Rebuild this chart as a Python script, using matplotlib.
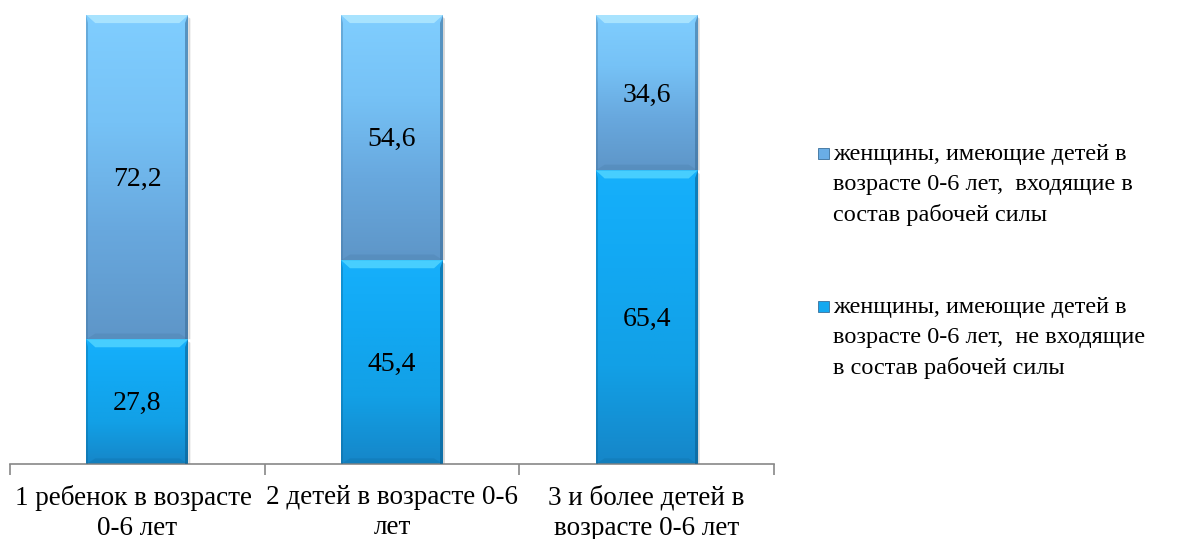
import numpy as np
import matplotlib
matplotlib.use("Agg")
import matplotlib.pyplot as plt
from matplotlib.patches import Rectangle, Polygon
from matplotlib.colors import LinearSegmentedColormap

categories = ["1 ребенок в возрасте \n0-6 лет", "2 детей в возрасте 0-6\nлет", "3 и более детей в\nвозрасте 0-6 лет"]
not_in_lf = [27.8, 45.4, 65.4]
in_lf = [72.2, 54.6, 34.6]
labels_series = ["женщины, имеющие детей в\nвозрасте 0-6 лет,  входящие в\nсостав рабочей силы",
                 "женщины, имеющие детей в\nвозрасте 0-6 лет,  не входящие\nв состав рабочей силы"]

plt.rcParams['font.family'] = ['Liberation Serif', 'DejaVu Serif']

fig = plt.figure(figsize=(11.82, 5.39), dpi=100)
ax = fig.add_axes([10/1182, 1-464/539, 764/1182, 449/539])
x = np.arange(len(categories))
width = 0.4

cm_top = LinearSegmentedColormap.from_list("t", ["#5e96c8", "#68a8de", "#76c2f6", "#80ceff"])
cm_bot = LinearSegmentedColormap.from_list("b", ["#1686c8", "#12a0e6", "#12a8f2", "#16b0fc"])

def grad_bar(xc, bottom, height, cmap, bevel_col, shade_col, base_col):
    bars = ax.bar([xc], [height], width, bottom=[bottom], color="none", edgecolor="none", zorder=2)
    p = bars.patches[0]
    x0, x1 = xc - width/2, xc + width/2
    grad = np.linspace(0, 1, 256).reshape(-1, 1)
    im = ax.imshow(grad, cmap=cmap, origin="lower", extent=[x0, x1, bottom, bottom+height],
                   aspect="auto", zorder=2)
    im.set_clip_path(p)
    bh = 1.8
    bw = 0.035
    top = bottom + height
    # top bevel
    ax.add_patch(Polygon([[x0, top], [x1, top], [x1-bw, top-bh], [x0+bw, top-bh]],
                         closed=True, facecolor=bevel_col, edgecolor="none", alpha=0.85, zorder=3))
    # bottom darker band
    ax.add_patch(Polygon([[x0, bottom], [x1, bottom], [x1-bw, bottom+bh*0.7], [x0+bw, bottom+bh*0.7]],
                         closed=True, facecolor=base_col, edgecolor="none", alpha=0.2, zorder=3))
    # shade right edge
    ax.add_patch(Polygon([[x1, top], [x1, bottom], [x1-0.012, bottom], [x1-0.012, top-bh]],
                         closed=True, facecolor=shade_col, edgecolor="none", alpha=0.6, zorder=3))
    ax.add_patch(Polygon([[x0, top], [x0, bottom], [x0+0.008, bottom], [x0+0.008, top-bh]],
                         closed=True, facecolor=shade_col, edgecolor="none", alpha=0.35, zorder=3))
    # drop shadow on right
    ax.add_patch(Polygon([[x1, top-0.5], [x1+0.008, top-0.8], [x1+0.008, bottom], [x1, bottom]],
                         closed=True, facecolor="#b0b0b0", edgecolor="none", alpha=0.5, zorder=1))

for i in range(len(categories)):
    grad_bar(x[i], 0, not_in_lf[i], cm_bot, "#50d4ff", "#0a5f90", "#0a5f90")
    grad_bar(x[i], not_in_lf[i], in_lf[i], cm_top, "#b0e8ff", "#3d6f9a", "#3d6f9a")
    ax.text(x[i], not_in_lf[i]/2 - 0.5, f"{not_in_lf[i]:.1f}".replace(".", ","), ha="center", va="center",
            fontsize=20, zorder=5)
    ax.text(x[i], not_in_lf[i] + in_lf[i]/2 - 0.5, f"{in_lf[i]:.1f}".replace(".", ","), ha="center",
            va="center", fontsize=20, zorder=5)

ax.set_xlim(-0.5, 2.5)
ax.set_ylim(0, 100)
for s in ["top", "right", "left"]:
    ax.spines[s].set_visible(False)
ax.spines["bottom"].set_color("#888888")
ax.spines["bottom"].set_linewidth(1.2)
ax.set_yticks([])
ax.set_xticks([-0.5, 0.5, 1.5, 2.5])
ax.set_xticklabels([])
ax.tick_params(axis="x", length=8, color="#888888", width=1.2)
ax.set_xticks(x, minor=True)
ax.set_xticklabels(categories, minor=True, fontsize=19.5, linespacing=1.28)
ax.tick_params(axis="x", which="minor", length=0, pad=15)

# legend
leg_items = [(labels_series[0], "#6aaee6", 153), (labels_series[1], "#14a8f0", 306)]
for text, col, ytop in leg_items:
    fig.text(833/1182, 1 - (ytop - 9)/539, text, fontsize=17.5, va="top", ha="left", linespacing=1.55)
    fig.patches.append(Rectangle((818/1182, 1 - (ytop + 6)/539), 11/1182, 11/539,
                                 transform=fig.transFigure, facecolor=col, edgecolor="#3a6f9a",
                                 linewidth=0.6, figure=fig))

fig.savefig("out.png", dpi=100)
